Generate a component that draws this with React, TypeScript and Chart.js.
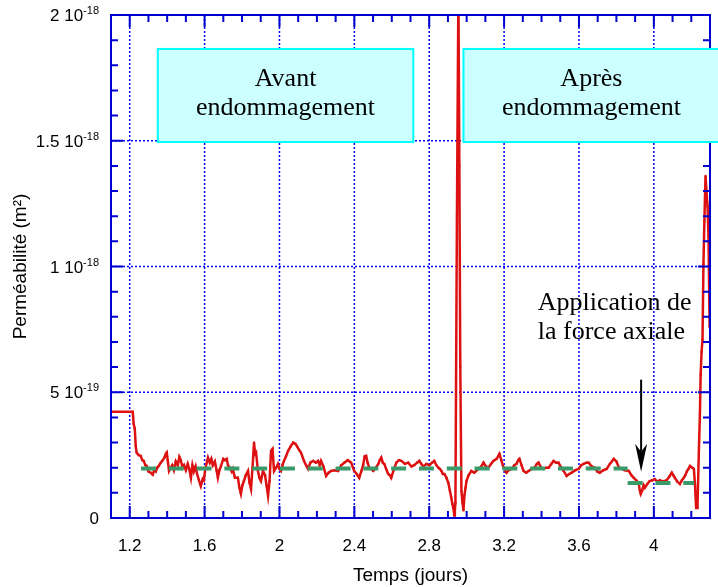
import React, { useEffect, useRef } from 'react';
import { Chart, registerables } from 'chart.js';

Chart.register(...registerables);

// Time (days)
const TIME = [
  1.1, 1.216, 1.221, 1.227, 1.232, 1.237, 1.248, 1.259, 1.267, 1.275, 1.283, 1.291, 1.3, 1.312, 1.323, 1.33,
  1.339, 1.347, 1.355, 1.366, 1.377, 1.385, 1.393, 1.398, 1.403, 1.41, 1.419, 1.427, 1.436, 1.446, 1.457, 1.465,
  1.473, 1.482, 1.49, 1.5, 1.51, 1.518, 1.527, 1.535, 1.543, 1.552, 1.56, 1.57, 1.58, 1.59, 1.596, 1.605,
  1.618, 1.628, 1.636, 1.644, 1.655, 1.664, 1.671, 1.679, 1.687, 1.7, 1.709, 1.718, 1.725, 1.735, 1.745, 1.751,
  1.762, 1.778, 1.786, 1.794, 1.802, 1.81, 1.82, 1.832, 1.84, 1.848, 1.856, 1.864, 1.87, 1.875, 1.885, 1.893,
  1.901, 1.912, 1.923, 1.931, 1.939, 1.947, 1.955, 1.963, 1.971, 1.982, 1.992, 2.0, 2.008, 2.016, 2.024, 2.035,
  2.046, 2.06, 2.073, 2.085, 2.094, 2.105, 2.115, 2.131, 2.142, 2.153, 2.165, 2.18, 2.195, 2.206, 2.215, 2.222,
  2.235, 2.249, 2.262, 2.276, 2.295, 2.313, 2.33, 2.346, 2.365, 2.383, 2.399, 2.413, 2.426, 2.437, 2.447, 2.455,
  2.463, 2.471, 2.479, 2.49, 2.501, 2.515, 2.528, 2.536, 2.544, 2.552, 2.56, 2.57, 2.581, 2.59, 2.597, 2.61,
  2.624, 2.638, 2.651, 2.67, 2.688, 2.705, 2.72, 2.735, 2.747, 2.758, 2.769, 2.785, 2.801, 2.815, 2.827, 2.838,
  2.849, 2.857, 2.865, 2.873, 2.881, 2.892, 2.902, 2.91, 2.918, 2.924, 2.929, 2.934, 2.937, 2.94, 2.948, 2.956,
  2.961, 2.966, 2.972, 2.978, 2.983, 2.988, 2.994, 2.999, 3.01, 3.025, 3.04, 3.063, 3.078, 3.09, 3.103, 3.116,
  3.13, 3.143, 3.16, 3.175, 3.185, 3.197, 3.205, 3.213, 3.225, 3.24, 3.255, 3.266, 3.275, 3.282, 3.293, 3.304,
  3.318, 3.331, 3.348, 3.363, 3.375, 3.384, 3.398, 3.411, 3.425, 3.438, 3.452, 3.464, 3.478, 3.491, 3.505, 3.518,
  3.534, 3.548, 3.561, 3.58, 3.598, 3.612, 3.625, 3.64, 3.652, 3.668, 3.684, 3.698, 3.711, 3.73, 3.748, 3.765,
  3.786, 3.8, 3.814, 3.828, 3.845, 3.866, 3.88, 3.893, 3.906, 3.919, 3.925, 3.93, 3.938, 3.945, 3.952, 3.965,
  3.978, 3.992, 4.005, 4.018, 4.032, 4.05, 4.069, 4.083, 4.096, 4.104, 4.112, 4.125, 4.139, 4.15, 4.16, 4.168,
  4.176, 4.185, 4.193, 4.205, 4.214, 4.22, 4.226, 4.233, 4.241, 4.246, 4.25, 4.255, 4.26, 4.265, 4.27, 4.276,
  4.282, 4.287, 4.292, 4.298,
];

// Permeability, in units of 1e-19 m²
const PERM = [
  4.22, 4.22, 3.75, 3.55, 2.87, 2.6, 2.5, 2.47, 2.3, 2.27, 2.1, 2.07, 1.85, 1.8, 1.72, 1.9,
  1.85, 2.0, 2.07, 2.2, 2.3, 2.4, 2.55, 2.6, 2.3, 1.87, 2.0, 2.1, 1.9, 2.25, 2.1, 2.43,
  2.3, 2.0, 2.1, 1.9, 2.15, 1.95, 1.6, 2.1, 1.85, 2.05, 1.75, 1.5, 1.27, 1.55, 1.5, 2.0,
  2.4, 2.2, 2.35, 2.1, 2.25, 1.9, 1.6, 1.9, 2.05, 2.35, 2.3, 2.35, 2.1, 2.0, 1.85, 1.95,
  1.6, 1.6, 1.2, 0.96, 1.3, 1.47, 1.7, 1.87, 1.4, 1.15, 2.0, 3.0, 2.55, 2.6, 1.87, 1.6,
  1.47, 1.87, 1.7, 1.3, 0.88, 1.47, 2.67, 2.75, 1.87, 2.0, 2.15, 1.95, 1.87, 2.1, 2.27, 2.45,
  2.67, 2.85, 3.0, 2.95, 2.85, 2.7, 2.6, 2.27, 2.1, 1.95, 2.2, 2.27, 2.2, 2.27, 2.1, 2.27,
  2.05, 1.67, 1.8, 1.87, 1.9, 1.87, 2.1, 2.2, 2.3, 2.2, 1.87, 1.75, 1.6, 1.85, 2.1, 2.45,
  2.47, 2.2, 2.0, 1.95, 1.87, 2.0, 2.15, 2.3, 2.4, 2.2, 2.15, 1.95, 1.75, 1.7, 1.6, 1.9,
  2.2, 2.3, 2.27, 2.15, 2.2, 2.05, 2.1, 2.2, 2.27, 2.15, 2.05, 2.15, 2.1, 2.2, 2.27, 2.1,
  2.0, 1.95, 1.87, 1.75, 1.75, 1.6, 1.4, 1.1, 0.8, 0.55, 0.4, 0.1, 0.3, 0.6, 12, 21,
  14, 6, 1.07, 0.6, 0.3, 0.9, 1.2, 1.47, 1.7, 1.87, 1.8, 1.95, 2.05, 2.2, 2.05, 2.0,
  2.15, 2.27, 2.35, 2.55, 2.3, 2.0, 1.9, 1.8, 1.9, 1.95, 2.1, 2.15, 2.3, 2.35, 2.1, 1.87,
  1.8, 1.87, 1.95, 2.0, 2.15, 2.2, 2.0, 1.95, 2.0, 2.0, 2.15, 2.27, 2.2, 2.2, 2.0, 1.87,
  1.67, 1.75, 1.8, 1.9, 1.95, 2.1, 2.15, 2.2, 2.2, 2.05, 2.0, 1.85, 1.8, 1.9, 1.95, 2.15,
  2.35, 2.25, 2.0, 1.95, 1.9, 1.87, 1.7, 1.6, 1.5, 1.4, 1.1, 0.96, 1.1, 1.3, 1.2, 1.35,
  1.47, 1.5, 1.55, 1.45, 1.5, 1.45, 1.5, 1.65, 1.8, 1.7, 1.6, 1.45, 1.35, 1.5, 1.6, 1.7,
  1.85, 1.95, 2.07, 2.0, 1.95, 1.3, 0.4, 0.4, 2.8, 4.1, 5.7, 6.6, 7.1, 10.1, 11.8, 13.6,
  12.9, 12.4, 11.2, 7.6,
];

// Mean levels (green dashed)
const LEVEL_BEFORE_TIME = [1.26, 3.86];
const LEVEL_BEFORE = [1.97, 1.97];
const LEVEL_AFTER_TIME = [3.86, 4.215];
const LEVEL_AFTER = [1.39, 1.39];

const X_TICKS = [1.2, 1.6, 2, 2.4, 2.8, 3.2, 3.6, 4];
const X_TICK_LABELS = ['1.2', '1.6', '2', '2.4', '2.8', '3.2', '3.6', '4'];
const Y_TICKS = [0, 5, 10, 15, 20];
const Y_TICK_BASE = ['0', '5 10', '1 10', '1.5 10', '2 10'];
const Y_TICK_EXP = ['', '-19', '-18', '-18', '-18'];

const X_MIN = 1.1;
const X_MAX = 4.3;
const Y_MIN = 0;
const Y_MAX = 20;

// Annotations (data coordinates)
const BOXES = [
  { x0: 1.35, x1: 2.715, y0: 14.95, y1: 18.65, lines: ['Avant', 'endommagement'] },
  { x0: 2.983, x1: 4.35, y0: 14.95, y1: 18.65, lines: ['Après', 'endommagement'] },
];
const NOTE = { x: 3.38, y: 8.29, lines: ['Application de', 'la force axiale'] };
const ARROW = { x: 3.932, yFrom: 5.5, yTo: 1.84 };

const SANS = '"Liberation Sans", Arial, sans-serif';
const SERIF = '"Liberation Serif", "Times New Roman", serif';
const AXIS_BLUE = '#0000d0';
const GRID_BLUE = '#0000ff';

const decorPlugin = {
  id: 'decor',
  beforeDatasetsDraw(chart: any) {
    const { ctx, chartArea: a, scales } = chart;
    const x = scales.x;
    const y = scales.y;
    ctx.save();
    ctx.strokeStyle = GRID_BLUE;
    ctx.lineWidth = 1.5;
    ctx.setLineDash([2, 2]);
    for (const v of X_TICKS) {
      const px = x.getPixelForValue(v);
      ctx.beginPath();
      ctx.moveTo(px, a.top);
      ctx.lineTo(px, a.bottom);
      ctx.stroke();
    }
    for (const v of Y_TICKS) {
      if (v === Y_MIN || v === Y_MAX) continue;
      const py = y.getPixelForValue(v);
      ctx.beginPath();
      ctx.moveTo(a.left, py);
      ctx.lineTo(a.right, py);
      ctx.stroke();
    }
    ctx.restore();
  },
  afterDatasetsDraw(chart: any) {
    const { ctx, chartArea: a, scales } = chart;
    const x = scales.x;
    const y = scales.y;
    ctx.save();
    // frame
    ctx.strokeStyle = AXIS_BLUE;
    ctx.lineWidth = 2;
    ctx.setLineDash([]);
    ctx.strokeRect(a.left, a.top, a.right - a.left, a.bottom - a.top);
    // ticks (inward) on four sides
    ctx.beginPath();
    for (let i = 0; i <= 32; i++) {
      const v = X_MIN + i * 0.1;
      const isMajor = X_TICKS.some((t) => Math.abs(t - v) < 1e-6);
      const len = isMajor ? 12 : 7;
      const px = x.getPixelForValue(v);
      ctx.moveTo(px, a.bottom);
      ctx.lineTo(px, a.bottom - len);
      ctx.moveTo(px, a.top);
      ctx.lineTo(px, a.top + len);
    }
    for (let v = Y_MIN; v <= Y_MAX; v += 1) {
      const len = v % 5 === 0 ? 12 : 7;
      const py = y.getPixelForValue(v);
      ctx.moveTo(a.left, py);
      ctx.lineTo(a.left + len, py);
      ctx.moveTo(a.right, py);
      ctx.lineTo(a.right - len, py);
    }
    ctx.stroke();

    // y tick labels with superscript exponents
    ctx.fillStyle = '#000';
    ctx.textBaseline = 'alphabetic';
    Y_TICKS.forEach((v, i) => {
      const py = y.getPixelForValue(v);
      const right = a.left - 12;
      const exp = Y_TICK_EXP[i];
      ctx.font = `11px ${SANS}`;
      const ew = exp ? ctx.measureText(exp).width : 0;
      if (exp) {
        ctx.textAlign = 'right';
        ctx.fillText(exp, right, py - 1);
      }
      ctx.font = `17px ${SANS}`;
      ctx.textAlign = 'right';
      ctx.fillText(Y_TICK_BASE[i], right - ew, py + 6);
    });

    // boxes
    for (const b of BOXES) {
      const l = x.getPixelForValue(b.x0);
      const r = x.getPixelForValue(b.x1);
      const t = y.getPixelForValue(b.y1);
      const bt = y.getPixelForValue(b.y0);
      ctx.fillStyle = '#ccffff';
      ctx.fillRect(l, t, r - l, bt - t);
      ctx.strokeStyle = '#00ffff';
      ctx.lineWidth = 2;
      ctx.strokeRect(l, t, r - l, bt - t);
      ctx.fillStyle = '#000';
      ctx.font = `26px ${SERIF}`;
      ctx.textAlign = 'center';
      ctx.textBaseline = 'alphabetic';
      const cx = (l + r) / 2;
      ctx.fillText(b.lines[0], cx, t + 37);
      ctx.fillText(b.lines[1], cx, t + 66);
    }

    // note
    ctx.fillStyle = '#000';
    ctx.font = `26px ${SERIF}`;
    ctx.textAlign = 'left';
    ctx.textBaseline = 'alphabetic';
    const nx = x.getPixelForValue(NOTE.x);
    const ny = y.getPixelForValue(NOTE.y);
    ctx.fillText(NOTE.lines[0], nx, ny);
    ctx.fillText(NOTE.lines[1], nx, ny + 29);

    // arrow
    const ax = x.getPixelForValue(ARROW.x);
    const ay0 = y.getPixelForValue(ARROW.yFrom);
    const ay1 = y.getPixelForValue(ARROW.yTo);
    ctx.strokeStyle = '#000';
    ctx.lineWidth = 2;
    ctx.beginPath();
    ctx.moveTo(ax, ay0);
    ctx.lineTo(ax, ay1 - 20);
    ctx.stroke();
    ctx.beginPath();
    ctx.moveTo(ax, ay1);
    ctx.lineTo(ax - 6, ay1 - 28);
    ctx.lineTo(ax, ay1 - 20);
    ctx.lineTo(ax + 6, ay1 - 28);
    ctx.closePath();
    ctx.fill();
    ctx.restore();
  },
};

export default function App() {
  const ref = useRef<HTMLCanvasElement | null>(null);

  useEffect(() => {
    if (!ref.current) return;
    const chart = new Chart(ref.current, {
      type: 'line',
      data: {
        datasets: [
          {
            label: 'Niveau avant',
            data: LEVEL_BEFORE_TIME.map((t, i) => ({ x: t, y: LEVEL_BEFORE[i] })),
            borderColor: '#3a9a6a',
            borderWidth: 4,
            borderDash: [15, 12.8],
            borderCapStyle: 'butt',
            pointRadius: 0,
          },
          {
            label: 'Niveau après',
            data: LEVEL_AFTER_TIME.map((t, i) => ({ x: t, y: LEVEL_AFTER[i] })),
            borderColor: '#3a9a6a',
            borderWidth: 4,
            borderDash: [15, 12.8],
            borderCapStyle: 'butt',
            pointRadius: 0,
          },
          {
            label: 'Perméabilité',
            data: TIME.map((t, i) => ({ x: t, y: PERM[i] })),
            borderColor: '#dd1111',
            backgroundColor: '#dd1111',
            borderWidth: 2.5,
            pointRadius: 1.5,
            pointStyle: 'rect',
            pointBorderWidth: 0,
          },
        ],
      },
      options: {
        animation: false,
        responsive: false,
        devicePixelRatio: 1,
        elements: { line: { tension: 0 } },
        layout: { padding: { top: 15, right: 8, left: 0, bottom: 0 } },
        plugins: { legend: { display: false }, tooltip: { enabled: false } },
        scales: {
          x: {
            type: 'linear',
            min: X_MIN,
            max: X_MAX,
            grid: { display: false },
            border: { display: false },
            afterBuildTicks: (s: any) => {
              s.ticks = X_TICKS.map((v) => ({ value: v }));
            },
            afterFit: (s: any) => {
              s.height = 69;
            },
            ticks: {
              autoSkip: false,
              maxRotation: 0,
              padding: 10,
              color: '#000',
              font: { family: SANS, size: 17 },
              callback: (_v: any, i: number) => X_TICK_LABELS[i],
            },
            title: {
              display: true,
              text: 'Temps (jours)',
              color: '#000',
              font: { family: SANS, size: 19 },
              padding: { top: 0, bottom: 0 },
            },
          },
          y: {
            type: 'linear',
            min: Y_MIN,
            max: Y_MAX,
            grid: { display: false },
            border: { display: false },
            afterBuildTicks: (s: any) => {
              s.ticks = Y_TICKS.map((v) => ({ value: v }));
            },
            afterFit: (s: any) => {
              s.width = 111;
            },
            ticks: { display: false },
            title: {
              display: true,
              text: 'Perméabilité (m²)',
              color: '#000',
              font: { family: SANS, size: 19 },
              padding: { top: 9, bottom: 0 },
            },
          },
        },
      },
      plugins: [decorPlugin],
    } as any);
    return () => chart.destroy();
  }, []);

  return (
    <div style={{ position: 'fixed', left: 0, top: 0, width: 718, height: 587, background: '#fff' }}>
      <canvas ref={ref} width={718} height={587} style={{ display: 'block' }} />
    </div>
  );
}
